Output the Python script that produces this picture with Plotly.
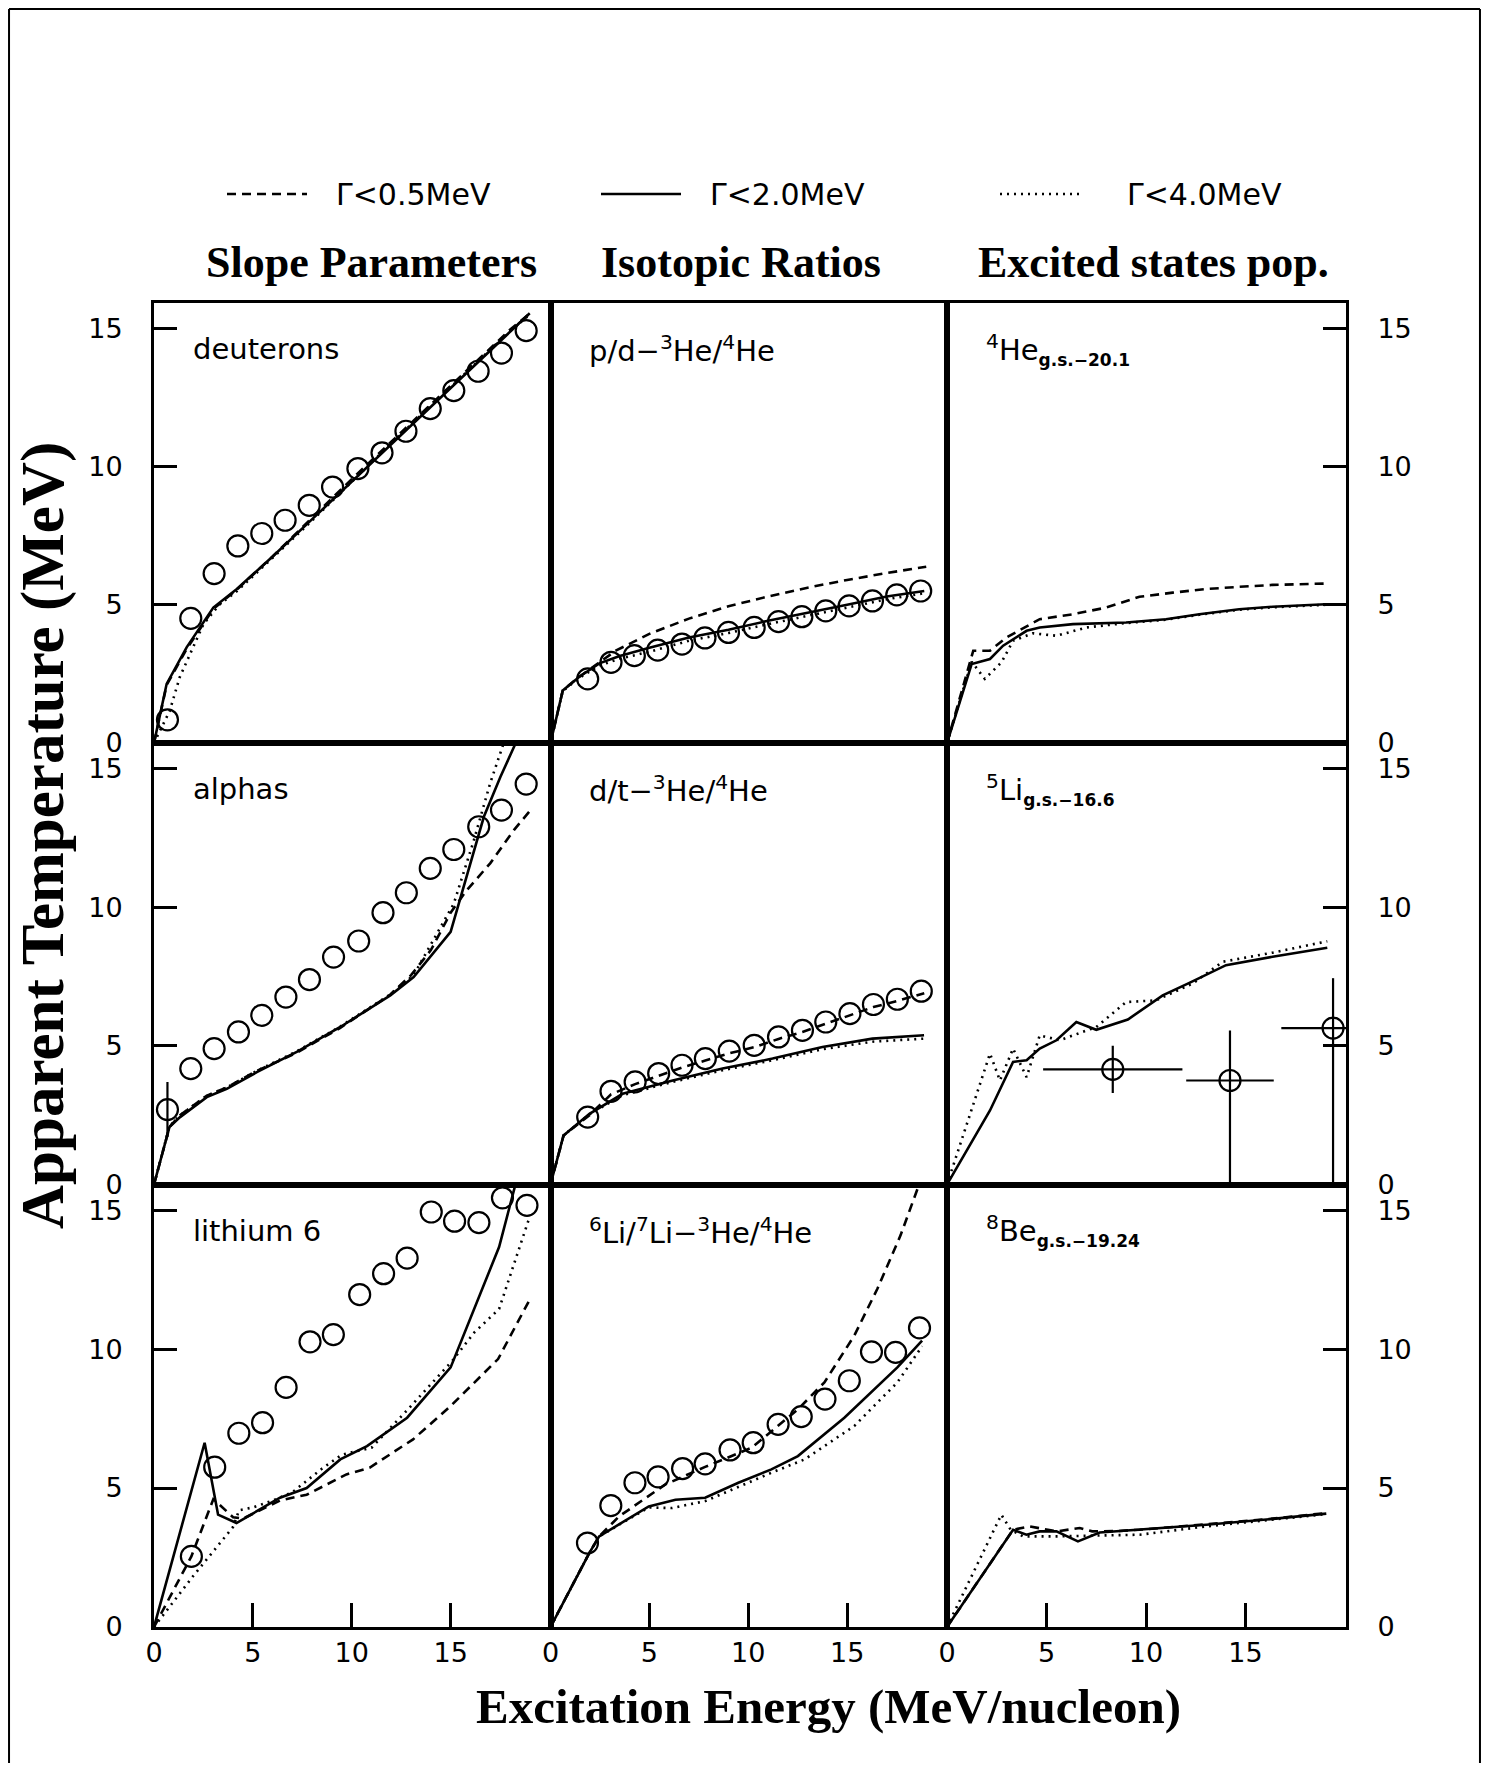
import plotly.graph_objects as go

# page is 1489 x 1771; the browser body keeps an 8px margin, so the figure itself is 16px smaller
PAGE_W, PAGE_H = 1489, 1771
OFF = 8
W, H = PAGE_W - 2 * OFF, PAGE_H - 2 * OFF

# ---------------- data ----------------
# Row 1 : deuterons / p/d-3He/4He / 4He g.s.-20.1
deut_x = [0.68, 1.86, 3.04, 4.24, 5.45, 6.63, 7.85, 9.03, 10.31, 11.53, 12.74, 13.97, 15.16, 16.39, 17.57, 18.82]
deut_y = [0.84, 4.51, 6.13, 7.13, 7.58, 8.06, 8.6, 9.26, 9.93, 10.5, 11.28, 12.1, 12.75, 13.45, 14.11, 14.92]
deut_sol_x = [0, 0.3, 0.64, 1.65, 3.0, 4.19, 6, 8, 10, 12, 14, 16, 18, 19]
deut_sol_y = [0, 1.0, 2.14, 3.46, 4.9, 5.57, 6.75, 8.1, 9.45, 10.8, 12.15, 13.5, 14.85, 15.55]
deut_das_x = [0, 0.64, 1.65, 3.0, 4.19, 6, 8, 10, 12, 14, 16, 18, 19.1]
deut_das_y = [0, 2.1, 3.4, 4.85, 5.55, 6.75, 8.15, 9.55, 10.9, 12.25, 13.6, 14.95, 15.6]
deut_dot_x = [0, 0.8, 1.3, 2.5, 3.3, 4.2, 6, 8, 10, 12, 14, 16, 18, 19]
deut_dot_y = [0, 1.17, 2.38, 4.3, 5.0, 5.5, 6.7, 8.05, 9.45, 10.85, 12.2, 13.55, 14.9, 15.5]

pd_x = [1.88, 3.06, 4.24, 5.42, 6.65, 7.81, 9.0, 10.3, 11.53, 12.71, 13.92, 15.1, 16.28, 17.51, 18.72]
pd_y = [2.32, 2.92, 3.16, 3.36, 3.58, 3.8, 4.0, 4.18, 4.39, 4.57, 4.78, 4.96, 5.14, 5.36, 5.5]
pd_sol_x = [0, 0.62, 1.46, 2.47, 3.5, 5, 7, 9, 11, 13, 15, 17, 18.9]
pd_sol_y = [0, 1.9, 2.4, 2.88, 3.15, 3.45, 3.82, 4.1, 4.42, 4.7, 5.0, 5.3, 5.5]
pd_das_x = [0, 0.62, 1.46, 2.47, 3.3, 5, 7, 9, 11, 13, 15, 17, 19]
pd_das_y = [0, 1.9, 2.4, 2.9, 3.34, 3.95, 4.5, 4.95, 5.3, 5.62, 5.9, 6.15, 6.38]
pd_dot_x = [0, 0.62, 1.46, 2.47, 3.5, 5, 7, 9, 11, 13, 15, 17, 18.9]
pd_dot_y = [0, 1.88, 2.36, 2.8, 3.05, 3.3, 3.7, 3.98, 4.3, 4.6, 4.9, 5.2, 5.42]

he4_sol_x = [0, 1.24, 2.16, 2.82, 4.0, 4.66, 6.33, 9.0, 11.0, 12.68, 14.68, 16.36, 19.03]
he4_sol_y = [0, 2.86, 3.04, 3.52, 4.06, 4.18, 4.3, 4.36, 4.48, 4.66, 4.84, 4.93, 5.02]
he4_das_x = [0, 1.32, 2.16, 2.99, 4.66, 6.33, 8.0, 9.67, 11.34, 13.0, 14.68, 16.36, 19.03]
he4_das_y = [0, 3.34, 3.34, 3.82, 4.48, 4.66, 4.9, 5.29, 5.44, 5.57, 5.65, 5.72, 5.77]
he4_dot_x = [0, 1.24, 1.9, 2.74, 3.32, 4.32, 5.5, 7.0, 9.0, 11.0, 12.68, 14.68, 16.36, 19.03]
he4_dot_y = [0, 2.94, 2.32, 2.92, 3.7, 3.97, 3.88, 4.18, 4.34, 4.46, 4.64, 4.82, 4.91, 5.0]

# Row 2 : alphas / d/t-3He/4He / 5Li g.s.-16.6
alp_x = [0.68, 1.86, 3.04, 4.27, 5.45, 6.67, 7.86, 9.08, 10.35, 11.58, 12.76, 13.97, 15.16, 16.42, 17.57, 18.82]
alp_y = [2.7, 4.18, 4.9, 5.5, 6.1, 6.76, 7.39, 8.2, 8.78, 9.8, 10.52, 11.4, 12.08, 12.9, 13.5, 14.44]
alp_err = [1.0, 0, 0, 0, 0, 0, 0, 0, 0, 0, 0, 0, 0, 0, 0, 0]
alp_sol_x = [0, 0.78, 1.32, 2.67, 3.68, 5.2, 7.22, 9.42, 11.95, 13.13, 15.0, 16.68, 17.52, 18.28, 18.6]
alp_sol_y = [0, 2.07, 2.43, 3.15, 3.45, 4.05, 4.78, 5.68, 6.82, 7.48, 9.11, 13.26, 14.7, 15.9, 16.6]
alp_das_x = [0, 0.78, 1.32, 2.67, 3.68, 5.2, 7.22, 9.42, 11.95, 13.0, 14.0, 15.0, 15.8, 17.0, 18.2, 19.04]
alp_das_y = [0, 2.07, 2.5, 3.2, 3.5, 4.1, 4.75, 5.65, 6.85, 7.55, 8.45, 9.8, 10.6, 11.58, 12.78, 13.5]
alp_dot_x = [0, 0.78, 1.32, 2.67, 3.68, 5.2, 7.22, 9.42, 11.95, 13.13, 15.16, 16.17, 17.0, 17.7, 18.1]
alp_dot_y = [0, 2.1, 2.5, 3.2, 3.5, 4.1, 4.8, 5.7, 6.85, 7.55, 10.13, 12.4, 14.47, 15.9, 16.8]

dt_x = [1.88, 3.06, 4.28, 5.47, 6.65, 7.83, 9.04, 10.3, 11.53, 12.74, 13.92, 15.14, 16.33, 17.54, 18.75]
dt_y = [2.43, 3.36, 3.7, 4.0, 4.3, 4.54, 4.81, 5.02, 5.32, 5.56, 5.86, 6.16, 6.49, 6.68, 6.97]
dt_sol_x = [0, 0.66, 1.97, 3.65, 6.18, 8.7, 11.23, 13.75, 16.28, 18.89]
dt_sol_y = [0, 1.77, 2.55, 3.27, 3.75, 4.18, 4.54, 4.96, 5.26, 5.38]
dt_dot_x = [0, 0.66, 1.97, 3.65, 6.18, 8.7, 11.23, 13.75, 16.28, 18.89]
dt_dot_y = [0, 1.77, 2.53, 3.22, 3.7, 4.12, 4.48, 4.88, 5.15, 5.26]
dt_das_x = [0, 0.66, 1.97, 3.06, 4.28, 5.47, 6.65, 7.83, 9.04, 10.3, 11.53, 12.74, 13.92, 15.14, 16.33, 17.54, 18.9]
dt_das_y = [0, 1.77, 2.5, 3.25, 3.62, 3.92, 4.22, 4.47, 4.73, 4.95, 5.25, 5.5, 5.8, 6.1, 6.4, 6.62, 6.9]

li5_sol_x = [0, 2.16, 3.32, 4.0, 4.66, 5.5, 6.5, 7.5, 9.09, 10.84, 12.18, 14.02, 16.36, 19.11]
li5_sol_y = [0, 2.67, 4.42, 4.48, 4.9, 5.2, 5.86, 5.58, 5.95, 6.82, 7.27, 7.91, 8.21, 8.54]
li5_dot_x = [0, 2.16, 2.66, 3.32, 4.0, 4.66, 5.66, 7.5, 9.0, 10.5, 12.35, 13.85, 16.36, 19.11]
li5_dot_y = [0, 4.72, 3.75, 4.9, 3.87, 5.38, 5.2, 5.68, 6.58, 6.64, 7.25, 8.03, 8.36, 8.77]
li5_x = [8.33, 14.22, 19.4]
li5_y = [4.15, 3.75, 5.64]
li5_xerr = [3.5, 2.2, 2.6]
li5_yerr_up = [0.85, 1.8, 1.8]
li5_yerr_dn = [0.85, 3.75, 5.64]

# Row 3 : lithium 6 / 6Li/7Li-3He/4He / 8Be g.s.-19.24
l6_x = [1.89, 3.07, 4.29, 5.49, 6.68, 7.89, 9.07, 10.4, 11.61, 12.8, 14.02, 15.2, 16.43, 17.62, 18.86]
l6_y = [2.54, 5.75, 6.97, 7.35, 8.62, 10.26, 10.52, 11.96, 12.71, 13.27, 14.93, 14.6, 14.55, 15.44, 15.17]
l6_sol_x = [0, 2.56, 3.24, 4.17, 6.37, 7.72, 9.42, 10.77, 12.8, 15.0, 17.45, 18.3, 18.6]
l6_sol_y = [0, 6.63, 4.04, 3.74, 4.65, 5.0, 6.03, 6.51, 7.53, 9.34, 13.67, 15.96, 16.8]
l6_das_x = [0, 1.89, 3.0, 4.0, 4.5, 6.37, 7.72, 9.73, 10.9, 13.1, 15.0, 17.4, 18.97]
l6_das_y = [0, 2.54, 4.6, 3.95, 3.9, 4.55, 4.76, 5.49, 5.73, 6.75, 7.95, 9.64, 11.74]
l6_dot_x = [0, 2.0, 4.0, 4.3, 5.0, 6.0, 7.0, 8.5, 9.5, 11.0, 12.8, 15.09, 16.2, 17.45, 18.97]
l6_dot_y = [0, 1.85, 3.6, 4.2, 4.3, 4.55, 4.85, 5.7, 6.2, 6.45, 7.8, 9.58, 10.6, 11.44, 14.7]

li67_x = [1.87, 3.05, 4.27, 5.44, 6.68, 7.82, 9.08, 10.25, 11.51, 12.68, 13.88, 15.11, 16.23, 17.45, 18.66]
li67_y = [3.02, 4.37, 5.19, 5.4, 5.7, 5.87, 6.37, 6.63, 7.29, 7.57, 8.2, 8.86, 9.9, 9.88, 10.76]
li67_sol_x = [0, 1.96, 2.46, 4.97, 6.32, 7.82, 9.5, 11.17, 12.51, 14.86, 17.54, 18.79]
li67_sol_y = [0, 2.66, 3.26, 4.34, 4.58, 4.65, 5.19, 5.67, 6.15, 7.53, 9.34, 10.3]
li67_dot_x = [0, 1.96, 2.46, 4.97, 6.15, 7.82, 11.17, 12.85, 15.36, 17.54, 18.79]
li67_dot_y = [0, 2.66, 3.26, 4.3, 4.28, 4.53, 5.55, 6.03, 7.23, 8.8, 10.1]
li67_das_x = [0, 1.96, 2.46, 3.47, 5.81, 7.82, 10.17, 12.51, 13.85, 15.36, 16.53, 17.7, 18.63, 19.0]
li67_das_y = [0, 2.66, 3.26, 3.98, 5.13, 5.76, 6.45, 7.83, 8.8, 10.48, 12.17, 14.09, 15.9, 16.6]

be8_sol_x = [0, 3.32, 3.99, 4.66, 5.5, 6.58, 7.67, 9.68, 13.03, 16.38, 19.06]
be8_sol_y = [0, 3.5, 3.32, 3.44, 3.44, 3.08, 3.4, 3.5, 3.68, 3.89, 4.08]
be8_dot_x = [0, 2.73, 3.2, 3.82, 5.5, 7.5, 9.68, 13.03, 16.38, 19.06]
be8_dot_y = [0, 4.04, 3.5, 3.26, 3.26, 3.3, 3.32, 3.62, 3.87, 4.06]
be8_das_x = [0, 3.32, 4.16, 5.5, 6.67, 7.3, 8.5, 9.68, 13.03, 16.38, 19.06]
be8_das_y = [0, 3.5, 3.62, 3.44, 3.56, 3.44, 3.45, 3.5, 3.7, 3.9, 4.1]

tick_vals = [0, 5, 10, 15]
tick_text = ["0", "5", "10", "15"]

col_titles = ["Slope Parameters", "Isotopic Ratios", "Excited states pop."]
legend_labels = ["Γ<0.5MeV", "Γ<2.0MeV", "Γ<4.0MeV"]
panel_labels = [
    "deuterons", "p/d−<sup>3</sup>He/<sup>4</sup>He",
    "<sup>4</sup>He<sub><span style='font-size:17px'><b>g.s.−20.1</b></span></sub>",
    "alphas", "d/t−<sup>3</sup>He/<sup>4</sup>He",
    "<sup>5</sup>Li<sub><span style='font-size:17px'><b>g.s.−16.6</b></span></sub>",
    "lithium 6", "<sup>6</sup>Li/<sup>7</sup>Li−<sup>3</sup>He/<sup>4</sup>He",
    "<sup>8</sup>Be<sub><span style='font-size:17px'><b>g.s.−19.24</b></span></sub>",
]

# ---------------- styles ----------------
DASH = "9px,6px"
DOT = "2px,5px"
LW = 2.6

panels = [
    dict(das=(deut_das_x, deut_das_y), sol=(deut_sol_x, deut_sol_y), dot=(deut_dot_x, deut_dot_y), pts=(deut_x, deut_y)),
    dict(das=(pd_das_x, pd_das_y), sol=(pd_sol_x, pd_sol_y), dot=(pd_dot_x, pd_dot_y), pts=(pd_x, pd_y)),
    dict(das=(he4_das_x, he4_das_y), sol=(he4_sol_x, he4_sol_y), dot=(he4_dot_x, he4_dot_y), pts=None),
    dict(das=(alp_das_x, alp_das_y), sol=(alp_sol_x, alp_sol_y), dot=(alp_dot_x, alp_dot_y), pts=(alp_x, alp_y), yerr=alp_err),
    dict(das=(dt_das_x, dt_das_y), sol=(dt_sol_x, dt_sol_y), dot=(dt_dot_x, dt_dot_y), pts=(dt_x, dt_y)),
    dict(das=None, sol=(li5_sol_x, li5_sol_y), dot=(li5_dot_x, li5_dot_y), pts=(li5_x, li5_y), li5=True),
    dict(das=(l6_das_x, l6_das_y), sol=(l6_sol_x, l6_sol_y), dot=(l6_dot_x, l6_dot_y), pts=(l6_x, l6_y)),
    dict(das=(li67_das_x, li67_das_y), sol=(li67_sol_x, li67_sol_y), dot=(li67_dot_x, li67_dot_y), pts=(li67_x, li67_y)),
    dict(das=(be8_das_x, be8_das_y), sol=(be8_sol_x, be8_sol_y), dot=(be8_dot_x, be8_dot_y), pts=None),
]

# layout geometry in page pixels (as in the reference)
col_edges = [154, 550.5, 947, 1346]
row_edges = [303, 743, 1184.5, 1627]


def fx(x):
    return (x - OFF) / W


def fy(y):
    return max(0.0, 1 - (y - OFF) / H)


fig = go.Figure()
layout = dict(
    width=W, height=H, margin=dict(l=0, r=0, t=0, b=0, autoexpand=False),
    paper_bgcolor="white", plot_bgcolor="white", showlegend=False,
)

TICKFONT = dict(family="DejaVu Sans", size=27, color="black")

for i, p in enumerate(panels):
    r, c = divmod(i, 3)
    n = i + 1
    xa = "x" if n == 1 else f"x{n}"
    ya = "y" if n == 1 else f"y{n}"
    xkey = "xaxis" if n == 1 else f"xaxis{n}"
    ykey = "yaxis" if n == 1 else f"yaxis{n}"
    layout[xkey] = dict(
        domain=[fx(col_edges[c]), fx(col_edges[c + 1])], anchor=ya,
        range=[0, 20.05], showgrid=False, zeroline=False, automargin=False,
        showline=True, mirror=True, linecolor="black", linewidth=3,
        ticks="inside" if r == 2 else "", ticklen=24, tickwidth=2.5, tickcolor="black",
        tickvals=tick_vals, ticktext=tick_text, showticklabels=(r == 2),
        tickfont=TICKFONT, ticklabelstandoff=0,
    )
    layout[ykey] = dict(
        domain=[fy(row_edges[r + 1]), fy(row_edges[r])], anchor=xa,
        range=[0, 15.92], showgrid=False, zeroline=False, automargin=False,
        showline=True, mirror=True, linecolor="black", linewidth=3,
        side="right" if c == 2 else "left",
        ticks="inside" if c in (0, 2) else "", ticklen=23, tickwidth=2.5, tickcolor="black",
        tickvals=tick_vals, ticktext=tick_text, showticklabels=(c in (0, 2)),
        tickfont=TICKFONT, ticklabelstandoff=23,
    )
    if p["das"] is not None:
        fig.add_trace(go.Scatter(x=p["das"][0], y=p["das"][1], mode="lines", xaxis=xa, yaxis=ya,
                                 line=dict(color="black", width=LW, dash=DASH), name=legend_labels[0]))
    fig.add_trace(go.Scatter(x=p["sol"][0], y=p["sol"][1], mode="lines", xaxis=xa, yaxis=ya,
                             line=dict(color="black", width=LW), name=legend_labels[1]))
    fig.add_trace(go.Scatter(x=p["dot"][0], y=p["dot"][1], mode="lines", xaxis=xa, yaxis=ya,
                             line=dict(color="black", width=LW, dash=DOT), name=legend_labels[2]))
    if p["pts"] is not None:
        kw = {}
        if p.get("yerr") is not None:
            kw["error_y"] = dict(type="data", array=p["yerr"], color="black", thickness=2.2, width=0)
        if p.get("li5"):
            kw["error_x"] = dict(type="data", array=li5_xerr, color="black", thickness=2.2, width=0)
            kw["error_y"] = dict(type="data", symmetric=False, array=li5_yerr_up, arrayminus=li5_yerr_dn,
                                 color="black", thickness=2.2, width=0)
        fig.add_trace(go.Scatter(x=p["pts"][0], y=p["pts"][1], mode="markers", xaxis=xa, yaxis=ya,
                                 marker=dict(symbol="circle-open", size=21, color="black", line=dict(width=2.2)),
                                 name="data", **kw))

annotations = []
# panel labels
for i, lab in enumerate(panel_labels):
    n = i + 1
    annotations.append(dict(
        text=lab, x=1.85, y=14.25, xref="x" if n == 1 else f"x{n}", yref="y" if n == 1 else f"y{n}",
        xanchor="left", yanchor="middle", showarrow=False,
        font=dict(family="DejaVu Sans", size=29, color="black"),
    ))

# column titles
for cx, t in zip([371, 741, 1153], col_titles):
    annotations.append(dict(
        text=f"<b>{t}</b>", x=fx(cx), y=fy(262), xref="paper", yref="paper",
        xanchor="center", yanchor="middle", showarrow=False,
        font=dict(family="Liberation Serif", size=44, color="black"),
    ))

# axis titles
annotations.append(dict(
    text="<b>Excitation Energy (MeV/nucleon)</b>", x=fx(828), y=fy(1706), xref="paper", yref="paper",
    xanchor="center", yanchor="middle", showarrow=False,
    font=dict(family="Liberation Serif", size=49, color="black"),
))
annotations.append(dict(
    text="<b>Apparent Temperature (MeV)</b>", x=fx(43), y=fy(836), xref="paper", yref="paper",
    xanchor="center", yanchor="middle", showarrow=False, textangle=-90,
    font=dict(family="Liberation Serif", size=61, color="black"),
))

# legend (key lines + labels)
shapes = []
leg_y = 194
leg_keys = [(227, 307, DASH), (601, 681, "solid"), (1000, 1084, DOT)]
leg_text_x = [334, 708, 1125]
for (x0, x1, d), tx, lab in zip(leg_keys, leg_text_x, legend_labels):
    shapes.append(dict(type="line", xref="paper", yref="paper", x0=fx(x0), x1=fx(x1), y0=fy(leg_y), y1=fy(leg_y),
                       line=dict(color="black", width=2.4, dash=d)))
    annotations.append(dict(
        text=lab, x=fx(tx), y=fy(leg_y + 1), xref="paper", yref="paper",
        xanchor="left", yanchor="middle", showarrow=False,
        font=dict(family="DejaVu Sans", size=30, color="black"),
    ))

# outer frame (drawn at the figure edge where the reference frame lies in the page margin)
fr_l, fr_r, fr_t = max(fx(5), 0.0007), min(fx(1487), 0.9993), fy(9)
shapes.append(dict(type="line", xref="paper", yref="paper", x0=fr_l, x1=fr_r, y0=fr_t, y1=fr_t,
                   line=dict(color="black", width=2)))
shapes.append(dict(type="line", xref="paper", yref="paper", x0=fr_l, x1=fr_l, y0=fr_t, y1=0,
                   line=dict(color="black", width=2)))
shapes.append(dict(type="line", xref="paper", yref="paper", x0=fr_r, x1=fr_r, y0=fr_t, y1=0,
                   line=dict(color="black", width=2)))

layout["annotations"] = annotations
layout["shapes"] = shapes
fig.update_layout(**layout)

fig.write_html("out.html", config={"displayModeBar": False})
